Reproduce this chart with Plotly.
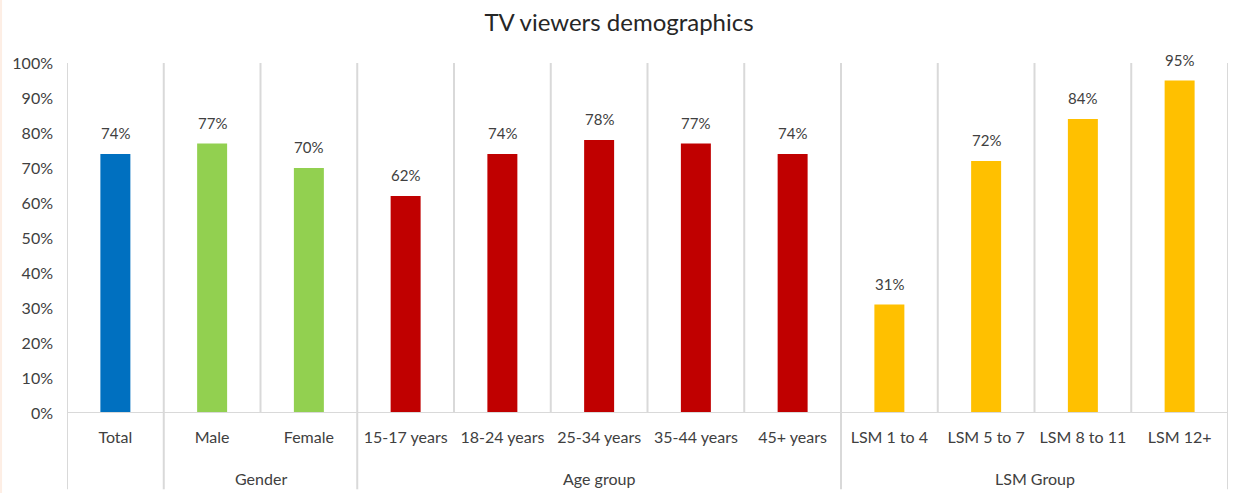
import plotly.graph_objects as go

# Share of TV viewers per demographic segment (%)
categories = ["Total", "Male", "Female",
              "15-17 years", "18-24 years", "25-34 years", "35-44 years", "45+ years",
              "LSM 1 to 4", "LSM 5 to 7", "LSM 8 to 11", "LSM 12+"]
values = [74, 77, 70, 62, 74, 78, 77, 74, 31, 72, 84, 95]
groups = ["", "Gender", "Gender",
          "Age group", "Age group", "Age group", "Age group", "Age group",
          "LSM Group", "LSM Group", "LSM Group", "LSM Group"]
group_colors = {"": "#0070C0", "Gender": "#92D050",
                "Age group": "#C00000", "LSM Group": "#FFC000"}

y_ticks = list(range(0, 101, 10))
tick_text = [f"{v}%" for v in y_ticks]

FONT = "Lato, Calibri, Carlito, sans-serif"
TEXT = "#404040"
GRID = "#D9D9D9"

x = list(range(len(categories)))
colors = [group_colors[g] for g in groups]

fig = go.Figure(go.Bar(
    x=x, y=values,
    marker=dict(color=colors, line=dict(width=0)),
    width=0.31,
    hoverinfo="x+y",
))

shapes = []
# separators between adjacent categories inside the plot
for i in range(len(categories) + 1):
    b = i - 0.5
    shapes.append(dict(type="line", xref="x", yref="y", x0=b, x1=b, y0=0, y1=100,
                       line=dict(color=GRID, width=2), layer="below"))

# group boundaries extend down through the label area
bounds = [0]
for i in range(1, len(groups)):
    if groups[i] != groups[i - 1]:
        bounds.append(i)
bounds.append(len(groups))
for b in bounds:
    shapes.append(dict(type="line", xref="x", yref="paper", x0=b - 0.5, x1=b - 0.5,
                       y0=-0.218, y1=0, line=dict(color=GRID, width=2), layer="below"))

# horizontal baseline
shapes.append(dict(type="line", xref="paper", yref="y", x0=0, x1=1, y0=0, y1=0,
                   line=dict(color=GRID, width=2)))
# faint outer frame on the left edge
shapes.append(dict(type="line", xref="paper", yref="paper",
                   x0=-0.0568, x1=-0.0568, y0=-0.3, y1=1.25,
                   line=dict(color="#FDEEE4", width=2)))

annotations = []
# value labels above each bar
for xi, v in zip(x, values):
    annotations.append(dict(x=xi, y=v, xref="x", yref="y", text=f"{v}%",
                            showarrow=False, yanchor="bottom", yshift=10,
                            font=dict(family=FONT, size=15, color=TEXT)))

# group names centred under their categories
for k in range(len(bounds) - 1):
    start, end = bounds[k], bounds[k + 1]
    name = groups[start]
    if not name:
        continue
    annotations.append(dict(x=(start + end - 1) / 2, y=-0.186, xref="x", yref="paper",
                            text=name, showarrow=False, yanchor="middle",
                            font=dict(family=FONT, size=16, color=TEXT)))

fig.update_layout(
    width=1238, height=493,
    margin=dict(l=67, r=10, t=63, b=80),
    paper_bgcolor="white", plot_bgcolor="white",
    showlegend=False,
    title=dict(text="TV viewers demographics", x=0.5, xanchor="center",
               y=0.955, yanchor="middle",
               font=dict(family=FONT, size=24, color="#262626")),
    xaxis=dict(range=[-0.5, len(categories) - 0.5], tickvals=x, ticktext=categories,
               showgrid=False, zeroline=False, showline=False, ticks="",
               tickfont=dict(family=FONT, size=16, color=TEXT), ticklabelstandoff=13),
    yaxis=dict(range=[0, 100], tickvals=y_ticks, ticktext=tick_text,
               showgrid=False, zeroline=False, showline=False, ticks="",
               tickfont=dict(family=FONT, size=16, color=TEXT), ticklabelstandoff=13),
    shapes=shapes,
    annotations=annotations,
)

fig.write_html("out.html")
